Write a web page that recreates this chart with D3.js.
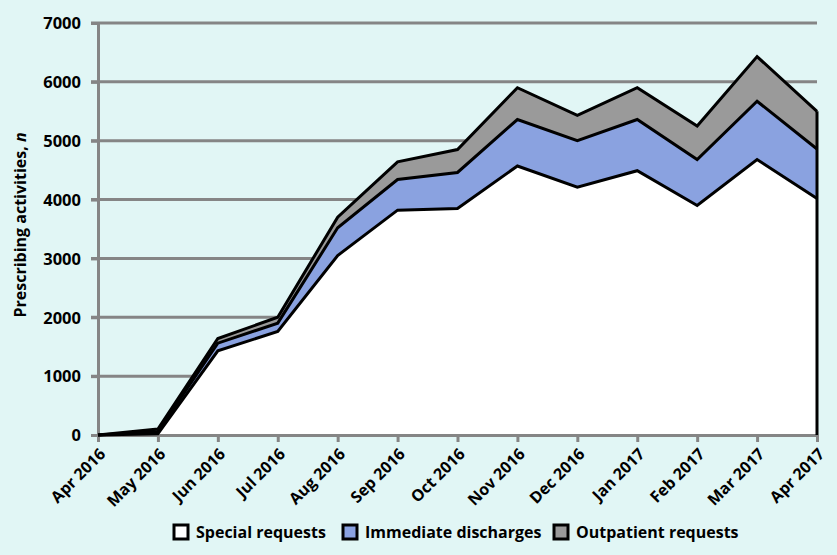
<!DOCTYPE html>
<html><head><meta charset="utf-8">
<script src="https://cdn.jsdelivr.net/npm/d3@7"></script>
<style>
html,body{margin:0;padding:0;background:#e1f6f5;}
svg{display:block;}
text{font-family:"Open Sans",Roboto,sans-serif;font-weight:700;fill:#000;}
</style></head>
<body>
<svg id="chart" width="837" height="555"></svg>
<script>
const months = ["Apr 2016","May 2016","Jun 2016","Jul 2016","Aug 2016","Sep 2016","Oct 2016","Nov 2016","Dec 2016","Jan 2017","Feb 2017","Mar 2017","Apr 2017"];
const specialRequests = [0, 20, 1430, 1760, 3050, 3820, 3850, 4570, 4210, 4490, 3900, 4680, 4020];
const immediateDischarges = [0, 40, 130, 140, 470, 520, 610, 790, 790, 870, 780, 990, 840];
const outpatientRequests = [0, 40, 80, 100, 180, 300, 390, 540, 430, 540, 570, 760, 640];
const seriesNames = ["Special requests","Immediate discharges","Outpatient requests"];
const seriesColors = ["#ffffff","#8aa2e0","#9a9a9a"];
const yTicks = [0,1000,2000,3000,4000,5000,6000,7000];

const svg = d3.select("#chart");
const m = {left:98, right:20, top:23, bottom:120};
const W = 837, H = 555;
const x = d3.scalePoint().domain(months).range([m.left, W - m.right]);
const y = d3.scaleLinear().domain([0,7000]).range([H - m.bottom, m.top]);

const rows = months.map((mo,i)=>({month:mo, s0:specialRequests[i], s1:immediateDischarges[i], s2:outpatientRequests[i]}));
const stack = d3.stack().keys(["s0","s1","s2"]);
const layers = stack(rows);

// gridlines
svg.append("g").selectAll("line").data(yTicks.filter(d=>d>0)).join("line")
  .attr("x1", m.left-7).attr("x2", x(months[months.length-1]))
  .attr("y1", d=>y(d)).attr("y2", d=>y(d))
  .attr("stroke","#858585").attr("stroke-width",3);

// areas
const area = d3.area().x(d=>x(d.data.month)).y0(d=>y(d[0])).y1(d=>y(d[1]));
svg.append("g").selectAll("path").data(layers).join("path")
  .attr("d", area).attr("fill", (d,i)=>seriesColors[i]).attr("stroke","none");

// axes
const yAxis = d3.axisLeft(y).tickValues(yTicks).tickSize(7).tickPadding(10).tickFormat(d3.format("d"));
const gy = svg.append("g").attr("transform",`translate(${m.left},0)`).call(yAxis);
gy.select(".domain").attr("stroke","#858585").attr("stroke-width",3);
gy.selectAll(".tick line").attr("stroke","#858585").attr("stroke-width",3);
gy.selectAll(".tick text").style("font-size","16.5px").attr("font-family","Open Sans").attr("font-weight",700).attr("dy","0.35em");

const xAxis = d3.axisBottom(x).tickSize(7).tickSizeOuter(0);
const gx = svg.append("g").attr("transform",`translate(0,${y(0)})`).call(xAxis);
gx.select(".domain").attr("stroke","#858585").attr("stroke-width",3);
gx.selectAll(".tick line").attr("stroke","#858585").attr("stroke-width",3);
gx.selectAll(".tick text").style("font-size","16px").attr("font-family","Open Sans").attr("font-weight",700)
  .attr("text-anchor","end").attr("y",0).attr("dy",0)
  .attr("transform","translate(8,20) rotate(-45)");

// top lines
const line = d3.line().x(d=>x(d.data.month)).y(d=>y(d[1]));
svg.append("g").selectAll("path").data(layers).join("path")
  .attr("d", line).attr("fill","none").attr("stroke","#000").attr("stroke-width",3).attr("stroke-linejoin","miter");
const last = rows.length-1;
svg.append("line").attr("x1", x(months[last])).attr("x2", x(months[last]))
  .attr("y1", y(0)).attr("y2", y(layers[2][last][1])).attr("stroke","#000").attr("stroke-width",3);

// y title
const yt = svg.append("text").attr("transform","translate(26,225) rotate(-90)").attr("text-anchor","middle").style("font-size","16px");
yt.append("tspan").text("Prescribing activities, ");
yt.append("tspan").text("n").attr("font-style","italic");

// legend
const legX = [174, 343, 554];
const lg = svg.append("g").selectAll("g").data(seriesNames).join("g")
  .attr("transform",(d,i)=>`translate(${legX[i]},525)`);
lg.append("rect").attr("x",0).attr("y",0).attr("width",14).attr("height",14)
  .attr("fill",(d,i)=>seriesColors[i]).attr("stroke","#000").attr("stroke-width",3);
lg.append("text").attr("x",22).attr("y",13).style("font-size","16px").text(d=>d);
</script>
</body></html>
